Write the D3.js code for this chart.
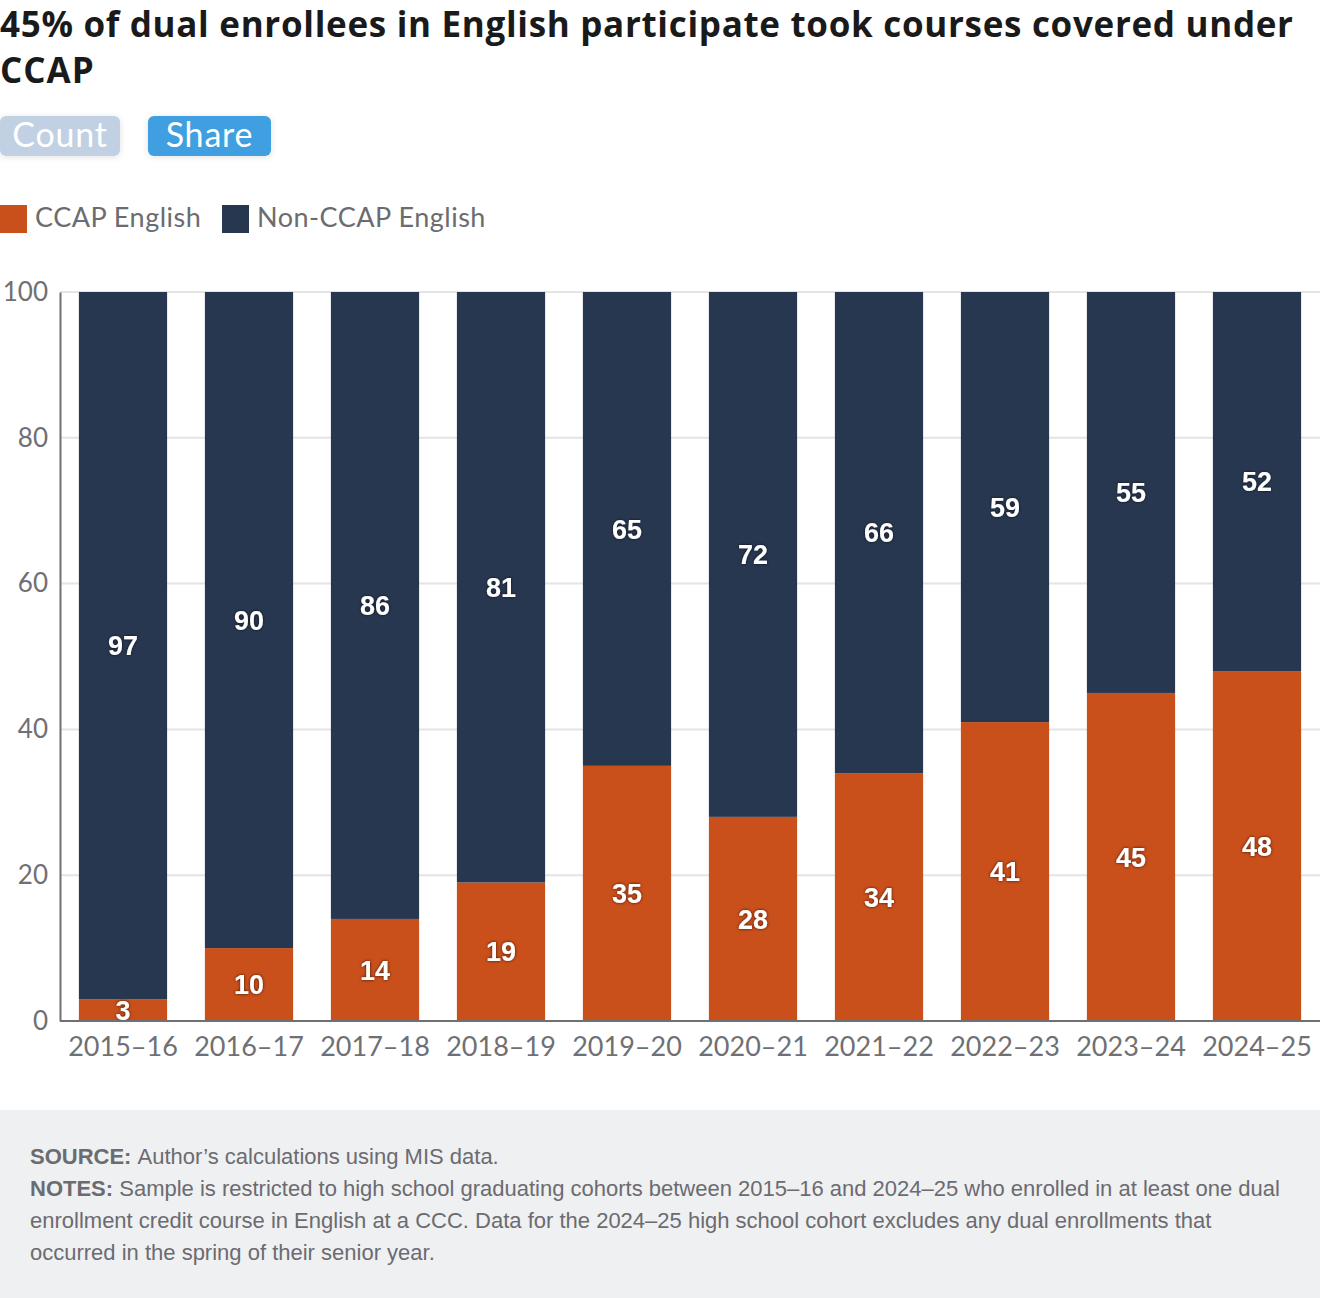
<!DOCTYPE html>
<html>
<head>
<meta charset="utf-8">
<script src="https://cdn.jsdelivr.net/npm/d3@7"></script>
<style>
  body { margin: 0; background: #fff; }
</style>
</head>
<body>
<div id="chart"></div>
<script>
var years = ["2015–16", "2016–17", "2017–18", "2018–19", "2019–20", "2020–21", "2021–22", "2022–23", "2023–24", "2024–25"];
var ccap = [3, 10, 14, 19, 35, 28, 34, 41, 45, 48];
var nonCcap = [97, 90, 86, 81, 65, 72, 66, 59, 55, 52];
var seriesNames = ["CCAP English", "Non-CCAP English"];
var yTicks = [0, 20, 40, 60, 80, 100];

var width = 1320, height = 1298;
var colors = ["#c94f1b", "#283750"];
var lato = "Lato, 'Open Sans', sans-serif";
var arial = "'Liberation Sans', Arial, sans-serif";

var svg = d3.select("#chart").append("svg")
    .attr("width", width)
    .attr("height", height);

var defs = svg.append("defs");
var f = defs.append("filter").attr("id", "shadow").attr("x", "-50%").attr("y", "-50%").attr("width", "200%").attr("height", "200%");
f.append("feDropShadow").attr("dx", 0).attr("dy", 0).attr("stdDeviation", 1.5)
    .attr("flood-color", "#000").attr("flood-opacity", 0.75);
var bf = defs.append("filter").attr("id", "btnshadow").attr("x", "-20%").attr("y", "-30%").attr("width", "140%").attr("height", "160%");
bf.append("feDropShadow").attr("dx", 0).attr("dy", 1).attr("stdDeviation", 3)
    .attr("flood-color", "#000").attr("flood-opacity", 0.12);

// title - fit to the reference line widths
function fitText(sel, target) {
  var w = sel.node().getComputedTextLength();
  if (w > target) sel.attr("font-size", +sel.attr("font-size") * target / w);
  else sel.attr("textLength", target).attr("lengthAdjust", "spacing");
}
var t1 = svg.append("text").attr("x", 0).attr("y", 37)
    .attr("font-family", "'Open Sans', Lato, sans-serif").attr("font-size", 35).attr("font-weight", 700).attr("fill", "#1a1a1a")
    .text("45% of dual enrollees in English participate took courses covered under");
fitText(t1, 1293);
var t2 = svg.append("text").attr("x", 0).attr("y", 83)
    .attr("font-family", "'Open Sans', Lato, sans-serif").attr("font-size", t1.attr("font-size")).attr("font-weight", 700).attr("fill", "#1a1a1a")
    .attr("letter-spacing", 1)
    .text("CCAP");

// toggle buttons
var buttons = [{label: "Count", x: 0, w: 120, fill: "#c1d0e3"}, {label: "Share", x: 148, w: 123, fill: "#409fe0"}];
var btn = svg.selectAll("g.btn").data(buttons).enter().append("g").attr("class", "btn");
btn.append("rect").attr("x", function(d) { return d.x; }).attr("y", 116)
    .attr("width", function(d) { return d.w; }).attr("height", 40).attr("rx", 6)
    .attr("fill", function(d) { return d.fill; }).attr("filter", "url(#btnshadow)");
btn.append("text").attr("x", function(d) { return d.x + d.w / 2; }).attr("y", 147)
    .attr("text-anchor", "middle").attr("font-family", lato).attr("font-size", 34)
    .attr("letter-spacing", 0.8).attr("fill", "#fff")
    .text(function(d) { return d.label; });

// legend
var legX = [0, 222];
var leg = svg.selectAll("g.leg").data(seriesNames).enter().append("g").attr("class", "leg");
leg.append("rect").attr("x", function(d, i) { return legX[i]; }).attr("y", 205)
    .attr("width", 27).attr("height", 28).attr("fill", function(d, i) { return colors[i]; });
leg.append("text").attr("x", function(d, i) { return legX[i] + 35; }).attr("y", 227)
    .attr("font-family", lato).attr("font-size", 27).attr("letter-spacing", 0.5)
    .attr("fill", "#6b6b70").text(function(d) { return d; });

// scales
var x = d3.scaleBand().domain(years).range([60, 1320]).paddingInner(0.3).paddingOuter(0.15);
var y = d3.scaleLinear().domain([0, 100]).range([1021, 292]);

// gridlines
svg.append("g").selectAll("line").data(yTicks.filter(function(t) { return t > 0; })).enter().append("line")
    .attr("x1", 60).attr("x2", 1320)
    .attr("y1", function(d) { return y(d); }).attr("y2", function(d) { return y(d); })
    .attr("stroke", "#e4e4e4").attr("stroke-width", 2);

var data = years.map(function(yr, i) { return {year: yr, ccap: ccap[i], non: nonCcap[i]}; });
var stack = d3.stack().keys(["ccap", "non"])(data);

var layers = svg.append("g").selectAll("g").data(stack).enter().append("g")
    .attr("fill", function(d, i) { return colors[i]; });
layers.selectAll("rect").data(function(d) { return d; }).enter().append("rect")
    .attr("x", function(d) { return x(d.data.year); })
    .attr("width", x.bandwidth())
    .attr("y", function(d) { return y(d[1]); })
    .attr("height", function(d) { return y(d[0]) - y(d[1]); });

// value labels
var labels = svg.append("g");
stack.forEach(function(layer) {
  labels.selectAll(null).data(layer).enter().append("text")
    .attr("x", function(d) { return x(d.data.year) + x.bandwidth() / 2; })
    .attr("y", function(d) { return (y(d[0]) + y(d[1])) / 2; })
    .attr("dy", "0.36em")
    .attr("text-anchor", "middle")
    .attr("font-size", 27).attr("font-weight", 700)
    .attr("font-family", arial)
    .attr("fill", "#fff").attr("filter", "url(#shadow)")
    .text(function(d) { return d[1] - d[0]; });
});

// axes
var yAxis = svg.append("g").attr("transform", "translate(60,0)")
    .call(d3.axisLeft(y).tickValues(yTicks).tickSize(0).tickPadding(12));
yAxis.select(".domain").attr("stroke", "#707074").attr("stroke-width", 2);
yAxis.selectAll("text").attr("font-size", 26).attr("fill", "#707074").attr("font-family", lato);

var xAxis = svg.append("g").attr("transform", "translate(0,1021)")
    .call(d3.axisBottom(x).tickSize(0).tickPadding(16));
xAxis.select(".domain").attr("d", "M60,0H1320").attr("stroke", "#707074").attr("stroke-width", 2);
xAxis.selectAll("text").attr("font-size", 27).attr("fill", "#707074").attr("font-family", lato);

// footer
svg.append("rect").attr("x", 0).attr("y", 1110).attr("width", width).attr("height", height - 1110).attr("fill", "#eff0f2");
var notes = [
  [{b: "SOURCE: "}, {t: "Author’s calculations using MIS data."}],
  [{b: "NOTES: "}, {t: "Sample is restricted to high school graduating cohorts between 2015–16 and 2024–25 who enrolled in at least one dual"}],
  [{t: "enrollment credit course in English at a CCC. Data for the 2024–25 high school cohort excludes any dual enrollments that"}],
  [{t: "occurred in the spring of their senior year."}]
];
notes.forEach(function(line, i) {
  var t = svg.append("text").attr("x", 30).attr("y", 1164 + i * 32)
      .attr("font-size", 22).attr("fill", "#6b6b70")
      .attr("font-family", arial);
  line.forEach(function(p) {
    t.append("tspan").attr("font-weight", p.b ? 700 : 400).text(p.b || p.t);
  });
});
</script>
</body>
</html>
